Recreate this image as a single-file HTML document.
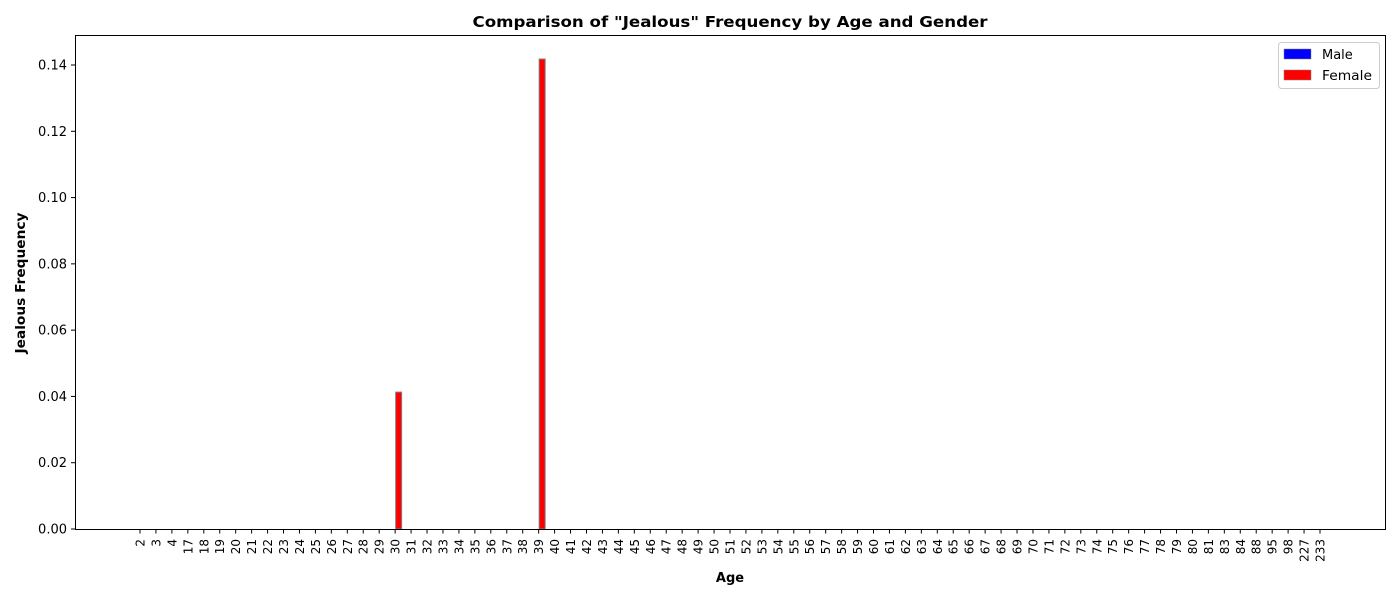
<!DOCTYPE html>
<html><head><meta charset="utf-8"><style>
body{margin:0;background:#fff;font-family:"Liberation Sans","DejaVu Sans",sans-serif}
svg text{font-family:"DejaVu Sans","Liberation Sans",sans-serif}
</style></head><body>
<svg id="chart" width="1400" height="600" xmlns="http://www.w3.org/2000/svg">
<rect width="1400" height="600" fill="#fff"/>
<text x="730" y="27" text-anchor="middle" font-size="15.5" font-weight="bold" textLength="515" lengthAdjust="spacingAndGlyphs">Comparison of "Jealous" Frequency by Age and Gender</text>
<g id="bars"></g>
<g id="yticks"></g>
<g id="xticks"></g>
<rect x="75.5" y="35.5" width="1310" height="494" fill="none" stroke="#000" stroke-width="1"/>
<text transform="translate(25,283) rotate(-90)" text-anchor="middle" font-size="13" font-weight="bold" textLength="141" lengthAdjust="spacingAndGlyphs">Jealous Frequency</text>
<text x="730" y="582" text-anchor="middle" font-size="13" font-weight="bold">Age</text>
<g>
<rect x="1278.5" y="42.5" width="101" height="46" rx="3" fill="#fff" stroke="#ccc"/>
<g><rect x="1284" y="49" width="27" height="10" fill="#0000ff" stroke="#808080" stroke-width="0.5"/><text x="1322" y="59" font-size="13">Male</text></g>
<g><rect x="1284" y="70" width="27" height="10" fill="#ff0000" stroke="#808080" stroke-width="0.5"/><text x="1322" y="80" font-size="13" textLength="50" lengthAdjust="spacingAndGlyphs">Female</text></g>
</g>
</svg>
<script>
const ages=[2,3,4,17,18,19,20,21,22,23,24,25,26,27,28,29,30,31,32,33,34,35,36,37,38,39,40,41,42,43,44,45,46,47,48,49,50,51,52,53,54,55,56,57,58,59,60,61,62,63,64,65,66,67,68,69,70,71,72,73,74,75,76,77,78,79,80,81,83,84,88,95,98,227,233];
const maleValues=ages.map(()=>0);
const femaleValues=ages.map(a=>a===30?0.0413:(a===39?0.1418:0));
const yTicks=[0,0.02,0.04,0.06,0.08,0.10,0.12,0.14];
const NS="http://www.w3.org/2000/svg";
const x=i=>140+i*(1180/74);
const y=v=>529-v*(464/0.14);
const bw=6;
const bars=document.getElementById('bars'),yt=document.getElementById('yticks'),xt=document.getElementById('xticks');
function mk(t,a,p){const e=document.createElementNS(NS,t);for(const k in a)e.setAttribute(k,a[k]);p.appendChild(e);return e;}
ages.forEach((a,i)=>{
 const m=mk('rect',{x:x(i)-bw,y:y(maleValues[i]),width:bw,height:529-y(maleValues[i]),fill:'#0000ff',stroke:'#808080','stroke-width':0.5},bars);
 
 
 const f=mk('rect',{x:x(i)+0.5,y:y(femaleValues[i]),width:bw,height:529-y(femaleValues[i]),fill:'#ff0000',stroke:'#808080','stroke-width':1},bars);
 
 
 mk('line',{x1:x(i),x2:x(i),y1:529,y2:533.5,stroke:'#000'},xt);
 const t=mk('text',{transform:`translate(${x(i)+4.5},539) rotate(-90)`,'text-anchor':'end','font-size':12},xt);
 t.textContent=a;
 
 
});
yTicks.forEach(v=>{
 mk('line',{x1:71,x2:75.5,y1:y(v),y2:y(v),stroke:'#000'},yt);
 const t=mk('text',{x:67,y:y(v)+4.5,'text-anchor':'end','font-size':13},yt);
 t.textContent=v.toFixed(2);
 
 
});
</script>
</body></html>
